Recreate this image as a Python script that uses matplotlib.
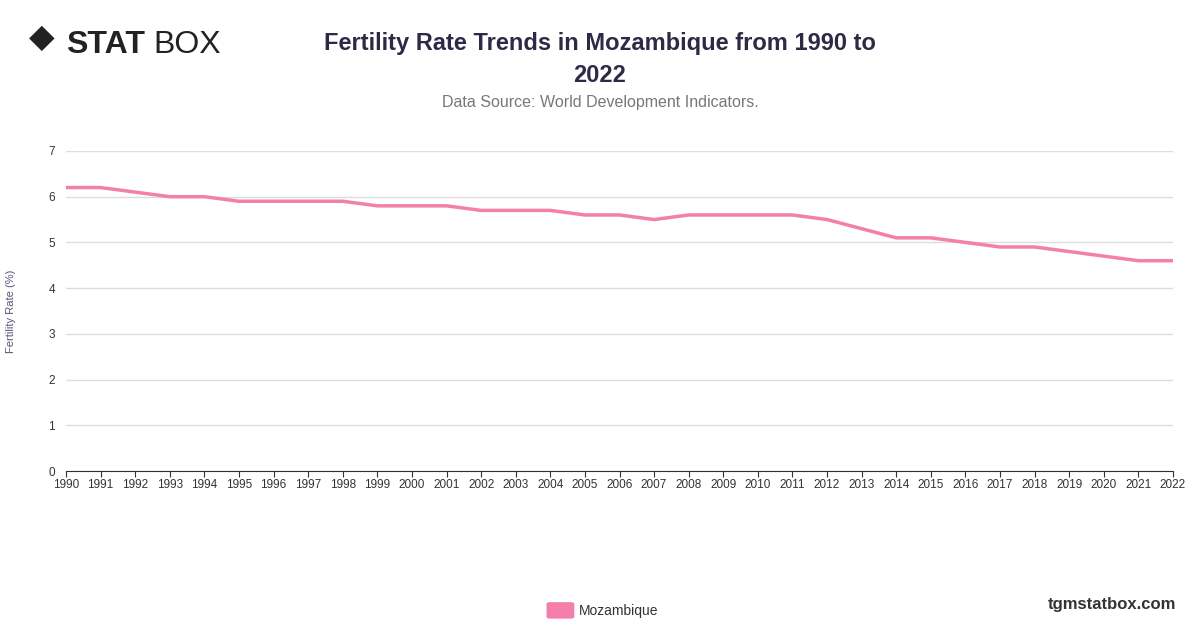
import matplotlib.pyplot as plt
from matplotlib.patches import FancyBboxPatch

plt.rcParams['font.family'] = ['Liberation Sans', 'DejaVu Sans']

years = list(range(1990, 2023))
fertility = [6.2, 6.2, 6.1, 6.0, 6.0, 5.9, 5.9, 5.9, 5.9, 5.8, 5.8, 5.8, 5.7, 5.7, 5.7,
             5.6, 5.6, 5.5, 5.6, 5.6, 5.6, 5.6, 5.5, 5.3, 5.1, 5.1, 5.0, 4.9, 4.9,
             4.8, 4.7, 4.6, 4.6]
line_color = '#f47fab'

fig = plt.figure(figsize=(12, 6.28), dpi=100)
ax = fig.add_axes([0.055, 0.25, 0.9225, 0.5096])
ax.plot(years, fertility, color=line_color, linewidth=2.5)
ax.set_xlim(1990, 2022)
ax.set_ylim(0, 7)
ax.set_xticks(years)
ax.set_xticklabels([str(y) for y in years], fontsize=8.5)
ax.set_yticks(range(0, 8))
ax.tick_params(axis='y', length=0, labelsize=8.5, colors='#333333', pad=8)
ax.tick_params(axis='x', length=4, colors='#333333', pad=2)
ax.grid(axis='y', color='#dddddd', linewidth=1)
for s in ['top', 'right', 'left']:
    ax.spines[s].set_visible(False)
ax.spines['bottom'].set_color('#333333')
ax.set_ylabel('Fertility Rate (%)', fontsize=8, color='#555577')
ax.yaxis.set_label_coords(-0.045, 0.5)

fig.text(0.5, 0.92, 'Fertility Rate Trends in Mozambique from 1990 to', ha='center',
         fontsize=17, fontweight='bold', color='#2d2a45')
fig.text(0.5, 0.87, '2022', ha='center', fontsize=17, fontweight='bold', color='#2d2a45')
fig.text(0.5, 0.83, 'Data Source: World Development Indicators.', ha='center',
         fontsize=11.5, color='#777777')

fig.text(0.035, 0.925, '◆', fontsize=24, color='#222222', ha='center')
fig.text(0.055, 0.915, 'STAT', fontsize=23, fontweight='bold', color='#222222')
fig.text(0.128, 0.915, 'BOX', fontsize=23, color='#222222')

fig.text(0.98, 0.03, 'tgmstatbox.com', ha='right', fontsize=12, fontweight='bold', color='#333333')
fig.patches.append(FancyBboxPatch((0.458, 0.018), 0.018, 0.02, boxstyle='round,pad=0.002',
                                  transform=fig.transFigure, color=line_color))
fig.text(0.482, 0.02, 'Mozambique', fontsize=10, color='#333333')

fig.savefig('out.png', dpi=100)
